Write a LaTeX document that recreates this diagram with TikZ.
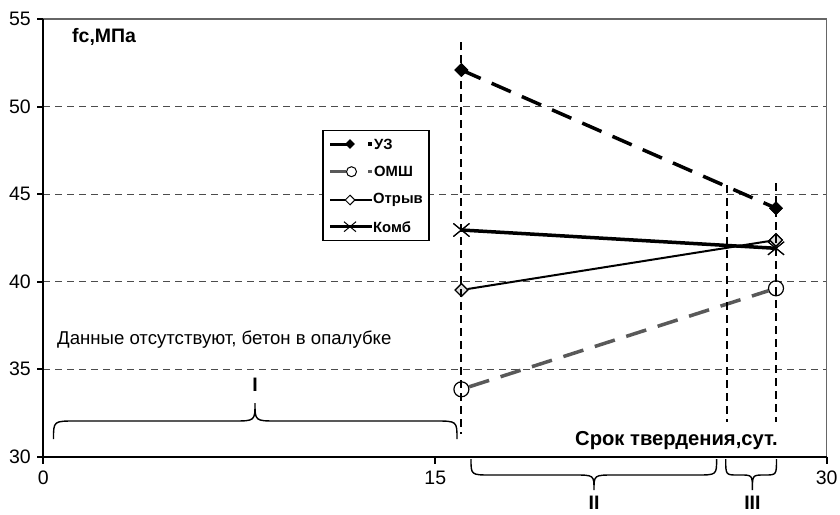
\documentclass[tikz,border=0pt]{standalone}
\usepackage{fontspec}
\setmainfont{Liberation Sans}
\usetikzlibrary{shapes.geometric,shapes.misc}
\begin{document}
\begin{tikzpicture}[x=1pt,y=-1pt,
  gridline/.style={draw=black!70,line width=1.3pt,dash pattern=on 7pt off 5pt},
  vline/.style={draw=black,line width=2pt,dash pattern=on 8pt off 5pt},
  frame/.style={draw=black!60,line width=1.5pt},
  axis/.style={draw=black,line width=2pt},
  uzline/.style={draw=black,line width=3.5pt,dash pattern=on 21pt off 12pt},
  omline/.style={draw=black!65,line width=3.5pt,dash pattern=on 21pt off 12pt},
  otrline/.style={draw=black,line width=2pt},
  kombline/.style={draw=black,line width=3.5pt},
  uzmark/.style={diamond,fill=black,inner sep=0pt,minimum size=14pt},
  ommark/.style={circle,draw=black,fill=white,line width=1.2pt,inner sep=0pt,minimum size=15pt},
  otrmark/.style={diamond,draw=black,fill=black!12,line width=1.2pt,inner sep=0pt,minimum size=13pt},
  kmark/.style={cross out,draw=black,line width=1.1pt,inner sep=0pt,minimum width=15pt,minimum height=12pt},
  brace/.style={draw=black,line width=1.4pt},
  ticklab/.style={font=\fontsize{19.5}{22}\selectfont,inner sep=0pt},
  boldlab/.style={font=\fontsize{19.5}{22}\selectfont\bfseries,inner sep=0pt},
  leglab/.style={font=\fontsize{14.8}{17}\selectfont\bfseries,inner sep=0pt,anchor=west}
]
\useasboundingbox (0,0) rectangle (840,514);
\fill[white] (0,0) rectangle (840,514);

% grid
\foreach \yy in {106.7,194.2,281.7,369.2}
  \draw[gridline] (43.3,\yy) -- (826.7,\yy);

% frame and axes
\draw[frame] (43.3,19.2) -- (826.7,19.2) -- (826.7,456.7);
\draw[axis] (43.3,19.2) -- (43.3,456.7) -- (826.7,456.7);
\foreach \yy/\lab in {19.2/55,106.7/50,194.2/45,281.7/40,369.2/35,456.7/30}{
  \draw[axis] (37,\yy) -- (43.3,\yy);
  \node[ticklab,anchor=east] at (31,\yy) {\lab};
}
\foreach \xx/\lab in {43.3/0,435.3/15,826.7/30}{
  \draw[axis] (\xx,456.7) -- (\xx,464);
  \node[ticklab,anchor=base] at (\xx,484) {\lab};
}

% legend
\node[draw=black,line width=1.2pt,fill=white,minimum width=106pt,minimum height=110pt,inner sep=0pt] (leg) at (375.9,185.4) {};
\draw[black,line width=3pt] (330,144) -- (350,144);
\node[diamond,fill=black,inner sep=0pt,minimum size=10pt] (lm1) at (350,144) {};
\fill[black] (368,142.3) rectangle (372,145.7);
\node[leglab] (lt1) at (374,144) {УЗ};
\draw[black!65,line width=3pt] (330,171.7) -- (346,171.7);
\node[circle,draw=black,fill=white,line width=1pt,inner sep=0pt,minimum size=10pt] (lm2) at (351.5,171.7) {};
\fill[black!65] (368,170) rectangle (372,173.4);
\node[leglab] (lt2) at (374,171.7) {ОМШ};
\draw[black,line width=1.8pt] (330,200) -- (372,200);
\node[diamond,draw=black,fill=white,line width=1pt,inner sep=0pt,minimum size=10pt] (lm3) at (350,200) {};
\node[leglab] (lt3) at (373,200) {Отрыв};
\draw[black,line width=3pt] (330,226.7) -- (372,226.7);
\node[cross out,draw=black,line width=1pt,inner sep=0pt,minimum width=11pt,minimum height=9pt] (lm4) at (350,226.7) {};
\node[leglab] (lt4) at (373,226.7) {Комб};

% data markers
\node[uzmark] (u1) at (461.4,70) {};
\node[uzmark] (u2) at (776,208.2) {};
\node[ommark] (o1) at (461.4,389.3) {};
\node[ommark] (o2) at (776,288.3) {};
\node[otrmark] (r1) at (461.4,290) {};
\node[otrmark] (r2) at (776,240) {};
\node[kmark] (k1) at (461.4,230) {};
\node[kmark] (k2) at (776,248.3) {};

% series lines
\draw[uzline] (u1.center) -- (u2.center);
\draw[omline] (o1) -- (o2);
\draw[kombline] (k1.center) -- (k2.center);
\draw[otrline] (r1) -- (r2);

% redraw markers on top
\node[uzmark] at (461.4,70) {};
\node[uzmark] at (776,208.2) {};
\node[otrmark] at (461.4,290) {};
\node[otrmark] at (776,240) {};
\node[kmark] at (461.4,230) {};
\node[kmark] at (776,248.3) {};

% vertical dashed lines
\coordinate (v1t) at (461.4,42);
\coordinate (v1b) at (461.4,434);
\coordinate (v2t) at (726.7,185);
\coordinate (v2b) at (726.7,422);
\coordinate (v3t) at (776,183);
\coordinate (v3b) at (776,422);
\draw[vline] (v1t) -- (v1b);
\draw[vline] (v2t) -- (v2b);
\draw[vline] (v3t) -- (v3b);

% texts
\node[boldlab,anchor=west] (ylab) at (72,37) {fc,МПа};
\node[font=\fontsize{18.6}{22}\selectfont,inner sep=0pt,anchor=west] (note) at (57,340) {Данные отсутствуют, бетон в опалубке};
\node[font=\fontsize{20.2}{23}\selectfont\bfseries,inner sep=0pt,anchor=east] (xlab) at (778,441) {Срок твердения,сут.};

% braces
\draw[brace] (53.5,439) .. controls (53.5,421) .. (75.5,421) -- (233,421)
  .. controls (255,421) .. (255,403) .. controls (255,421) .. (277,421)
  -- (435,421) .. controls (457,421) .. (457,439);
\node[boldlab] (b1) at (255,385) {I};
\draw[brace] (471,459) .. controls (471,475) .. (491,475) -- (574,475)
  .. controls (594,475) .. (594,490) .. controls (594,475) .. (614,475)
  -- (696.6,475) .. controls (716.6,475) .. (716.6,459);
\node[boldlab] (b2) at (594,503) {II};
\draw[brace] (725.7,459) .. controls (725.7,475) .. (737.7,475) -- (740.4,475)
  .. controls (752.4,475) .. (752.4,490) .. controls (752.4,475) .. (764.4,475)
  -- (764.5,475) .. controls (776.5,475) .. (776.5,459);
\node[boldlab] (b3) at (752.4,503) {III};
\end{tikzpicture}
\end{document}
